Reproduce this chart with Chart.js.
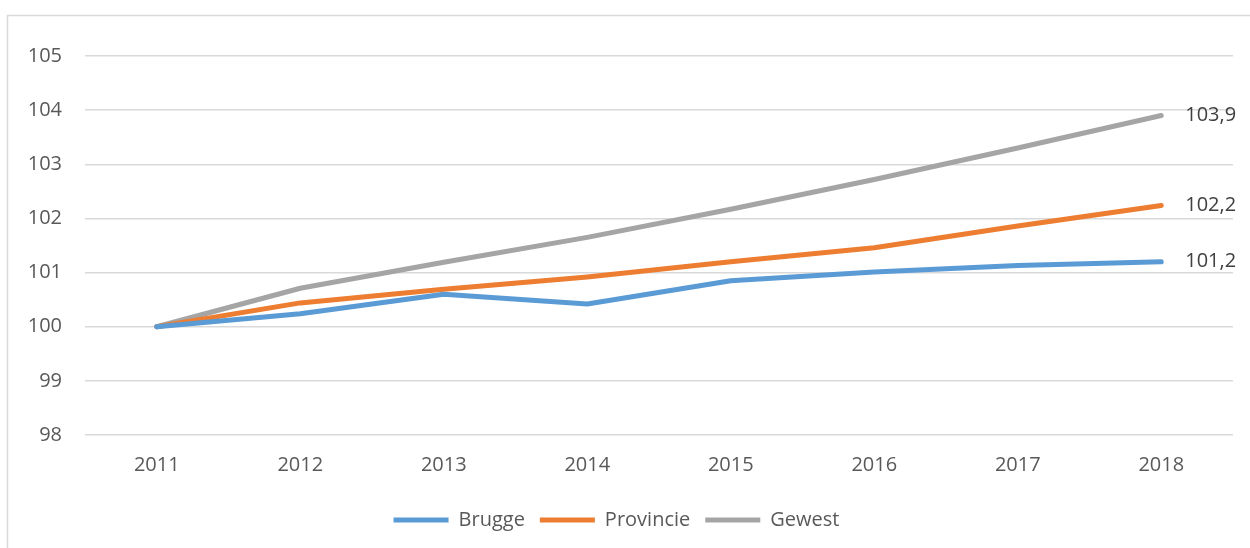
<!DOCTYPE html>
<html>
<head>
<meta charset="utf-8">
<script src="https://cdn.jsdelivr.net/npm/chart.js@4"></script>
<style>
  html, body { margin: 0; padding: 0; background: #fff; }
  #wrap { width: 1250px; height: 548px; }
</style>
</head>
<body>
<div id="wrap"><canvas id="chart"></canvas></div>
<script>
// chart data
const years = ["2011", "2012", "2013", "2014", "2015", "2016", "2017", "2018"];
const brugge = [100, 100.24, 100.6, 100.42, 100.85, 101.01, 101.13, 101.2];
const provincie = [100, 100.44, 100.69, 100.92, 101.2, 101.46, 101.86, 102.24];
const gewest = [100, 100.71, 101.19, 101.65, 102.17, 102.72, 103.3, 103.9];
const endLabels = ["101,2", "102,2", "103,9"];

// light frame round the chart, cut off on right and bottom like the original
const frame = {
  id: "frame",
  beforeDraw(chart) {
    const ctx = chart.ctx;
    ctx.save();
    ctx.strokeStyle = "#d9d9d9";
    ctx.lineWidth = 1.5;
    ctx.strokeRect(7.5, 15.5, 1400, 700);
    ctx.restore();
  },
};

// value labels next to the last point of each line
const lastValue = {
  id: "lastValue",
  afterDatasetsDraw(chart) {
    const ctx = chart.ctx;
    ctx.save();
    ctx.font = "20px 'Open Sans'";
    ctx.fillStyle = "#404040";
    ctx.textAlign = "left";
    ctx.textBaseline = "middle";
    chart.data.datasets.forEach((ds, i) => {
      const meta = chart.getDatasetMeta(i);
      const pt = meta.data[meta.data.length - 1];
      ctx.fillText(endLabels[i], pt.x + 24, pt.y);
    });
    ctx.restore();
  },
};

const lineStyle = {
  borderWidth: 5,
  pointRadius: 0,
  pointHoverRadius: 0,
  tension: 0,
  borderCapStyle: "round",
  borderJoinStyle: "round",
  fill: false,
};

new Chart(document.getElementById("chart"), {
  type: "line",
  data: {
    labels: years,
    datasets: [
      { label: "Brugge", data: brugge, borderColor: "#5b9bd5", backgroundColor: "#5b9bd5", ...lineStyle },
      { label: "Provincie", data: provincie, borderColor: "#ed7d31", backgroundColor: "#ed7d31", ...lineStyle },
      { label: "Gewest", data: gewest, borderColor: "#a5a5a5", backgroundColor: "#a5a5a5", ...lineStyle },
    ],
  },
  options: {
    responsive: true,
    maintainAspectRatio: false,
    animation: false,
    layout: {
      padding: { top: 56, right: 17, left: 0, bottom: 8 },
    },
    scales: {
      x: {
        offset: true,
        grid: { display: false, drawTicks: false },
        border: { display: false },
        ticks: {
          color: "#595959",
          padding: 18,
          maxRotation: 0,
          font: { family: "Open Sans", size: 20 },
        },
      },
      y: {
        min: 98,
        max: 105,
        afterFit(scale) {
          scale.width = 85;
        },
        grid: { color: "#d9d9d9", lineWidth: 1.5, drawTicks: false },
        border: { display: false },
        ticks: {
          stepSize: 1,
          color: "#595959",
          padding: 23,
          font: { family: "Open Sans", size: 20 },
        },
      },
    },
    plugins: {
      tooltip: { enabled: false },
      legend: {
        position: "bottom",
        labels: {
          usePointStyle: true,
          pointStyle: "line",
          pointStyleWidth: 55,
          color: "#595959",
          padding: 15,
          font: { family: "Open Sans", size: 20 },
        },
      },
    },
  },
  plugins: [frame, lastValue],
});
</script>
</body>
</html>
